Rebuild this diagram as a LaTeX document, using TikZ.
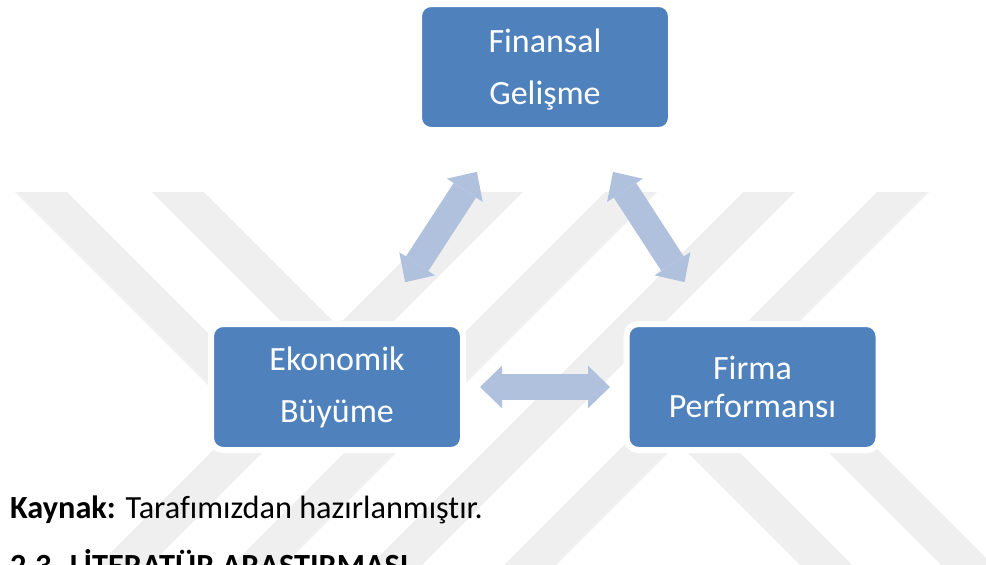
\documentclass[tikz,border=0pt]{standalone}
\usepackage{fontspec}
\setmainfont{Carlito}[Ligatures=CommonOff]
\usetikzlibrary{arrows.meta}
\definecolor{boxblue}{RGB}{79,129,189}
\definecolor{arrowblue}{RGB}{176,193,221}
\definecolor{markgray}{RGB}{239,239,239}
\pgfdeclarelayer{mark}
\pgfsetlayers{mark,main}
\begin{document}
\begin{tikzpicture}[x=1pt,y=-1pt,
  stage/.style={draw=white, line width=6pt, fill=boxblue, rounded corners=12pt,
    minimum width=252pt, minimum height=126pt, inner sep=0pt, align=center,
    text=white},
  boxtext/.style={text=white, align=center, inner sep=0pt},
  twopar/.style={font=\fontsize{34}{52}\selectfont},
  wrapped/.style={font=\fontsize{34}{37.5}\selectfont},
  link/.style={draw=arrowblue, line width=26.7pt, {Triangle[width=42.6pt,length=22pt,line width=0pt]}-{Triangle[width=42.6pt,length=22pt,line width=0pt]}},
  band/.style={fill=markgray},
  body/.style={font=\fontsize{32.3}{38}\selectfont, anchor=base west, inner sep=0pt}]
\clip (0,0) rectangle (986,565);

% white page with faint diagonal stripes behind everything
\begin{pgfonlayer}{mark}
  \fill[white] (0,0) rectangle (986,565);
  \fill[band] (15,192) -- (67,192) -- (295,420) -- (243,420) -- cycle;
  \fill[band] (152,192) -- (204,192) -- (337.5,325.5) -- (311.5,351.5) -- cycle;
  \fill[band] (471,192) -- (523,192) -- (115,600) -- (63,600) -- cycle;
  \fill[band] (605,192) -- (657,192) -- (249,600) -- (197,600) -- cycle;
  \fill[band] (743,192) -- (795,192) -- (387,600) -- (335,600) -- cycle;
  \fill[band] (877,192) -- (929,192) -- (521,600) -- (469,600) -- cycle;
  \fill[band] (635,400) -- (687,400) -- (887,600) -- (835,600) -- cycle;
  \fill[band] (776,400) -- (828,400) -- (1028,600) -- (976,600) -- cycle;
\end{pgfonlayer}

% the three boxes
\node[stage] (fin) at (545,67) {};
\node[boxtext, twopar] (finText) at ([yshift=-2.5pt]fin.center) {Finansal\\Gelişme};
\node[stage, twopar] (eko) at (337,387) {Ekonomik\\Büyüme};
\node[stage, wrapped] (firma) at (752.5,387) {Firma\\Performansı};

% two-way block arrows between the boxes
\draw[link, shorten <=125pt, shorten >=125pt] (eko.center) -- (fin.center);
\draw[link, shorten <=125pt, shorten >=125pt] (fin.center) -- (firma.center);
\draw[link, shorten <=143pt, shorten >=142.5pt] (eko.center) -- (firma.center);

% caption and next heading
\node[body] (src) at (10,518) {\textbf{Kaynak:} Tarafımızdan hazırlanmıştır.};
\node[body, font=\bfseries\fontsize{32.3}{38}\selectfont] (sec) at (10,576.5) {2.3. LİTERATÜR ARAŞTIRMASI};
\end{tikzpicture}
\end{document}
